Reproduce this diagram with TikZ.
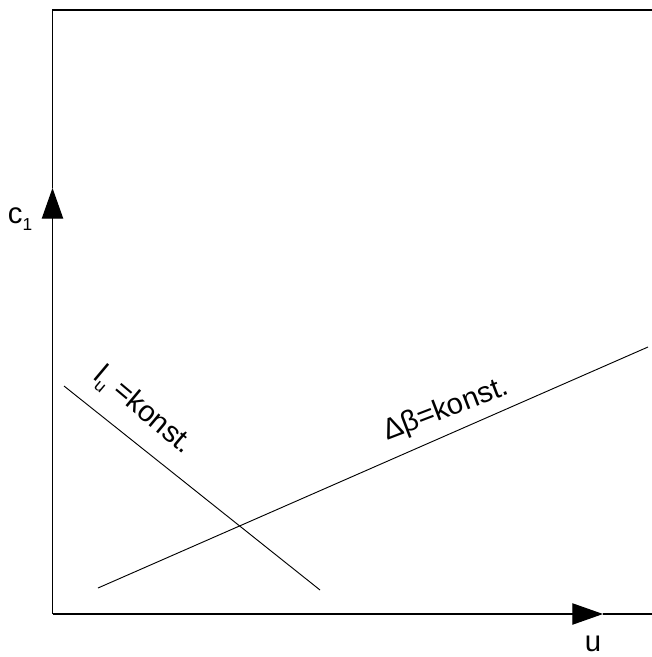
\documentclass[tikz,border=0pt]{standalone}
\usepackage{fontspec}
\setmainfont{Liberation Sans}
\usetikzlibrary{arrows.meta}
\tikzset{
  axisline/.style={line width=0.9pt},
  axisarrow/.style={line width=0.9pt,-{Triangle[length=23pt,width=16pt]}},
  thinline/.style={line width=0.7pt},
  lbl/.style={inner sep=0pt,font=\fontsize{22}{26}\selectfont},
}
\newcommand{\lowsub}[1]{\raisebox{-5pt}{\fontsize{13}{15}\selectfont #1}}

\begin{document}
\begin{tikzpicture}[x=0.75pt,y=0.75pt,yscale=-1,xscale=1]
\useasboundingbox (0,0) rectangle (652,657);

% Corners of the frame
\coordinate (o) at (52.5,614);
\coordinate (ytop) at (52.5,10);
\coordinate (xend) at (652,614);
\coordinate (topr) at (652,10);
\coordinate (ytip) at (52.5,188);
\coordinate (xtip) at (603,614);

%Axes
\draw [axisarrow] (o) -- (ytip);
\draw [axisline] (ytip) -- (ytop) -- (topr);
\draw [axisarrow] (o) -- (xtip);
\draw [axisline] (xtip) -- (xend);

% Line ends
\coordinate (la) at (64,386);
\coordinate (lb) at (320,590);
\coordinate (ba) at (98,588);
\coordinate (bb) at (648,347);

%Straight Lines
\draw [thinline] (la) -- (lb);
\draw [thinline] (ba) -- (bb);

% Text Node
\node (c1) [lbl] at (20,219) {c\lowsub{1}};
% Text Node
\node (u) [lbl] at (593,644) {u};
% Text Node
\node (lu) [lbl,rotate=-40] at (143,411) {l\lowsub{u} =konst.};
% Text Node
\node (db) [lbl,rotate=21] at (446,410) {Δβ=konst.};

\end{tikzpicture}
\end{document}
